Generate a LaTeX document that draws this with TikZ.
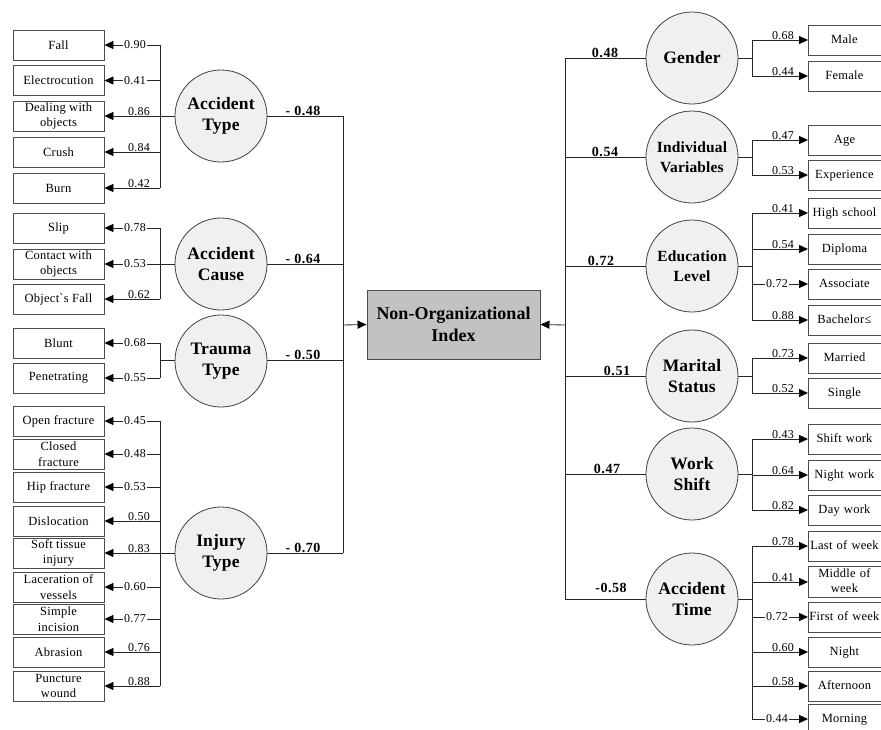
\documentclass[tikz,border=0pt]{standalone}
\usepackage{fontspec}
\setmainfont{Liberation Serif}
\newfontfamily\lsf[LetterSpace=2]{Liberation Serif}
\newfontfamily\lsb[LetterSpace=1]{Liberation Serif}
\newfontfamily\lsc[LetterSpace=4]{Liberation Serif}
\usetikzlibrary{arrows.meta}
\tikzset{
  ln/.style={draw=black!85, line width=0.85pt},
  arr/.style={ln, -{Triangle[length=9pt,width=8pt,fill=black,color=black]}},
  lbox/.style={draw=black!70, line width=0.9pt, minimum width=91pt, minimum height=30pt,
    inner xsep=1pt, inner ysep=0pt, align=center, font=\lsf\fontsize{12.5}{15.5}\selectfont},
  rbox/.style={draw=black!70, line width=0.9pt, anchor=west, minimum height=30pt,
    text width=95pt, inner xsep=0pt, inner ysep=0pt, align=left, font=\lsf\fontsize{12.5}{15.5}\selectfont},
  latent/.style={circle, draw=black!75, line width=0.8pt, fill=black!6, minimum size=92pt,
    inner sep=0pt, align=center, font=\lsb\bfseries\fontsize{17.5}{21.5}\selectfont},
  latsm/.style={latent, font=\lsb\bfseries\fontsize{15.5}{20}\selectfont},
  core/.style={draw=black!70, fill=black!24, line width=0.9pt, minimum width=173pt,
    minimum height=69pt, align=center, font=\bfseries\fontsize{18}{21.5}\selectfont},
  inl/.style={fill=white, inner xsep=1.2pt, inner ysep=0.5pt, font=\lsf\fontsize{12}{13}\selectfont},
  abv/.style={anchor=south, inner sep=0.5pt, xshift=4pt, font=\lsf\fontsize{12}{13}\selectfont},
  rinl/.style={inl},
  rabv/.style={abv, xshift=2pt},
  outl/.style={anchor=south, inner sep=0.5pt, font=\lsc\bfseries\fontsize{14}{15}\selectfont}
}
\newcommand\rtxt[1]{\makebox[72pt][c]{\begin{tabular}{@{}c@{}}#1\end{tabular}}}
% left indicator: name, y, text, value, label style
\newcommand\lind[5]{%
  \node[lbox] (#1) at (58.5,#2) {#3};
  \coordinate (#1b) at (160,#2);
  \draw[arr] (#1b) -- (#1.east);
  \node[#5] (#1v) at (135,#2) {#4};
}
% right indicator
\newcommand\rind[5]{%
  \node[rbox] (#1) at (808,#2) {\rtxt{#3}};
  \coordinate (#1b) at (752,#2);
  \draw[arr] (#1b) -- (#1.west);
  \node[#5] (#1v) at (777,#2) {#4};
}
\begin{document}
\begin{tikzpicture}[x=1pt,y=-1pt]
\useasboundingbox (0,0) rectangle (881,729);
\clip (0,0) rectangle (881,729);

% ---------- core ----------
\node[core] (core) at (453.5,324.5) {Non-Organizational\\Index};

% ---------- left: Accident Type ----------
\node[latent] (AT) at (221,116) {Accident\\Type};
\lind{fall}{45}{Fall}{0.90}{inl}
\lind{elec}{80.5}{Electrocution}{0.41}{inl}
\lind{deal}{116}{Dealing with\\objects}{0.86}{abv}
\lind{crush}{152}{Crush}{0.84}{abv}
\lind{burn}{188}{Burn}{0.42}{abv}
\draw[ln] (fallb) -- (burnb);
\draw[ln] (AT.west) -- (dealb);

% ---------- left: Accident Cause ----------
\node[latent] (AC) at (221,264) {Accident\\Cause};
\lind{slip}{228}{Slip}{0.78}{inl}
\lind{cont}{264}{Contact with\\objects}{0.53}{inl}
\lind{ofall}{299}{Object`s Fall}{0.62}{abv}
\draw[ln] (slipb) -- (ofallb);
\draw[ln] (AC.west) -- (contb);

% ---------- left: Trauma Type ----------
\node[latent] (TT) at (221,361) {Trauma\\Type};
\lind{blunt}{343}{Blunt}{0.68}{inl}
\lind{pene}{378}{Penetrating}{0.55}{inl}
\coordinate (TTb) at (160,360);
\draw[ln] (bluntb) -- (peneb);
\draw[ln] (TT.west |- TTb) -- (TTb);

% ---------- left: Injury Type ----------
\node[latent] (IT) at (221,553) {Injury\\Type};
\lind{open}{421}{Open fracture}{0.45}{inl}
\lind{clos}{454}{Closed\\fracture}{0.48}{inl}
\lind{hip}{487}{Hip fracture}{0.53}{inl}
\lind{disl}{521}{Dislocation}{0.50}{abv}
\lind{soft}{553}{Soft tissue\\injury}{0.83}{abv}
\lind{lace}{587}{Laceration of\\vessels}{0.60}{inl}
\lind{simp}{619}{Simple\\incision}{0.77}{inl}
\lind{abra}{652}{Abrasion}{0.76}{abv}
\lind{punc}{686}{Puncture\\wound}{0.88}{abv}
\draw[ln] (openb) -- (puncb);
\draw[ln] (IT.west) -- (softb);

% ---------- left outputs ----------
\coordinate (ATo) at (343,116);
\coordinate (ACo) at (343,264);
\coordinate (TTo) at (343,360);
\coordinate (ITo) at (343,553);
\coordinate (Lj) at (343,325);
\draw[ln] (AT.east) -- (ATo);
\draw[ln] (AC.east) -- (ACo);
\draw[ln] (TT.east |- TTo) -- (TTo);
\draw[ln] (IT.east) -- (ITo);
\draw[ln] (ATo) -- (ITo);
\draw[arr] (Lj) -- (core.west);
\node[outl] (ATl) at (303,116) {- 0.48};
\node[outl] (ACl) at (303,264) {- 0.64};
\node[outl] (TTl) at (303,360) {- 0.50};
\node[outl] (ITl) at (303,553) {- 0.70};

% ---------- right: Gender ----------
\node[latent] (GE) at (692,58) {Gender};
\rind{male}{40}{Male}{0.68}{rabv}
\rind{fem}{76}{Female}{0.44}{rabv}
\coordinate (GEb) at (752,58);
\draw[ln] (maleb) -- (femb);
\draw[ln] (GE.east) -- (GEb);

% ---------- right: Individual Variables ----------
\node[latsm] (IV) at (692,157) {Individual\\Variables};
\rind{age}{140}{Age}{0.47}{rabv}
\rind{expe}{175}{Experience}{0.53}{rabv}
\coordinate (IVb) at (752,157);
\draw[ln] (ageb) -- (expeb);
\draw[ln] (IV.east) -- (IVb);

% ---------- right: Education Level ----------
\node[latsm] (EL) at (692,266) {Education\\Level};
\rind{high}{213}{High school}{0.41}{rabv}
\rind{dipl}{249}{Diploma}{0.54}{rabv}
\rind{asso}{284}{Associate}{0.72}{rinl}
\rind{bach}{320}{Bachelor≤}{0.88}{rabv}
\coordinate (ELb) at (752,266);
\draw[ln] (highb) -- (bachb);
\draw[ln] (EL.east) -- (ELb);

% ---------- right: Marital Status ----------
\node[latent] (MS) at (692,376) {Marital\\Status};
\rind{marr}{358}{Married}{0.73}{rabv}
\rind{sing}{393}{Single}{0.52}{rabv}
\coordinate (MSb) at (752,376);
\draw[ln] (marrb) -- (singb);
\draw[ln] (MS.east) -- (MSb);

% ---------- right: Work Shift ----------
\node[latent] (WS) at (692,474) {Work\\Shift};
\rind{shif}{439}{Shift work}{0.43}{rabv}
\rind{nwrk}{475}{Night work}{0.64}{rabv}
\rind{dwrk}{510}{Day work}{0.82}{rabv}
\coordinate (WSb) at (752,474);
\draw[ln] (shifb) -- (dwrkb);
\draw[ln] (WS.east) -- (WSb);

% ---------- right: Accident Time ----------
\node[latent] (ATi) at (692,599) {Accident\\Time};
\rind{last}{546}{Last of week}{0.78}{rabv}
\rind{midd}{582}{Middle of\\week}{0.41}{rabv}
\rind{firs}{617}{First of week}{0.72}{rinl}
\rind{nigh}{652}{Night}{0.60}{rabv}
\rind{afte}{686}{Afternoon}{0.58}{rabv}
\rind{morn}{719}{Morning}{0.44}{rinl}
\coordinate (ATib) at (752,599);
\draw[ln] (lastb) -- (mornb);
\draw[ln] (ATi.east) -- (ATib);

% ---------- right outputs ----------
\coordinate (GEo) at (565,58);
\coordinate (IVo) at (565,157);
\coordinate (ELo) at (565,266);
\coordinate (MSo) at (565,376);
\coordinate (WSo) at (565,474);
\coordinate (ATio) at (565,599);
\coordinate (Rj) at (565,325);
\draw[ln] (GEo) -- (GE.west);
\draw[ln] (IVo) -- (IV.west);
\draw[ln] (ELo) -- (EL.west);
\draw[ln] (MSo) -- (MS.west);
\draw[ln] (WSo) -- (WS.west);
\draw[ln] (ATio) -- (ATi.west);
\draw[ln] (GEo) -- (ATio);
\draw[arr] (Rj) -- (core.east);
\node[outl] (GEl) at (605,58) {0.48};
\node[outl] (IVl) at (605,157) {0.54};
\node[outl] (ELl) at (601,266) {0.72};
\node[outl] (MSl) at (617,376) {0.51};
\node[outl] (WSl) at (607,474) {0.47};
\node[outl, yshift=6pt] (ATil) at (611,599) {-0.58};
\end{tikzpicture}
\end{document}
